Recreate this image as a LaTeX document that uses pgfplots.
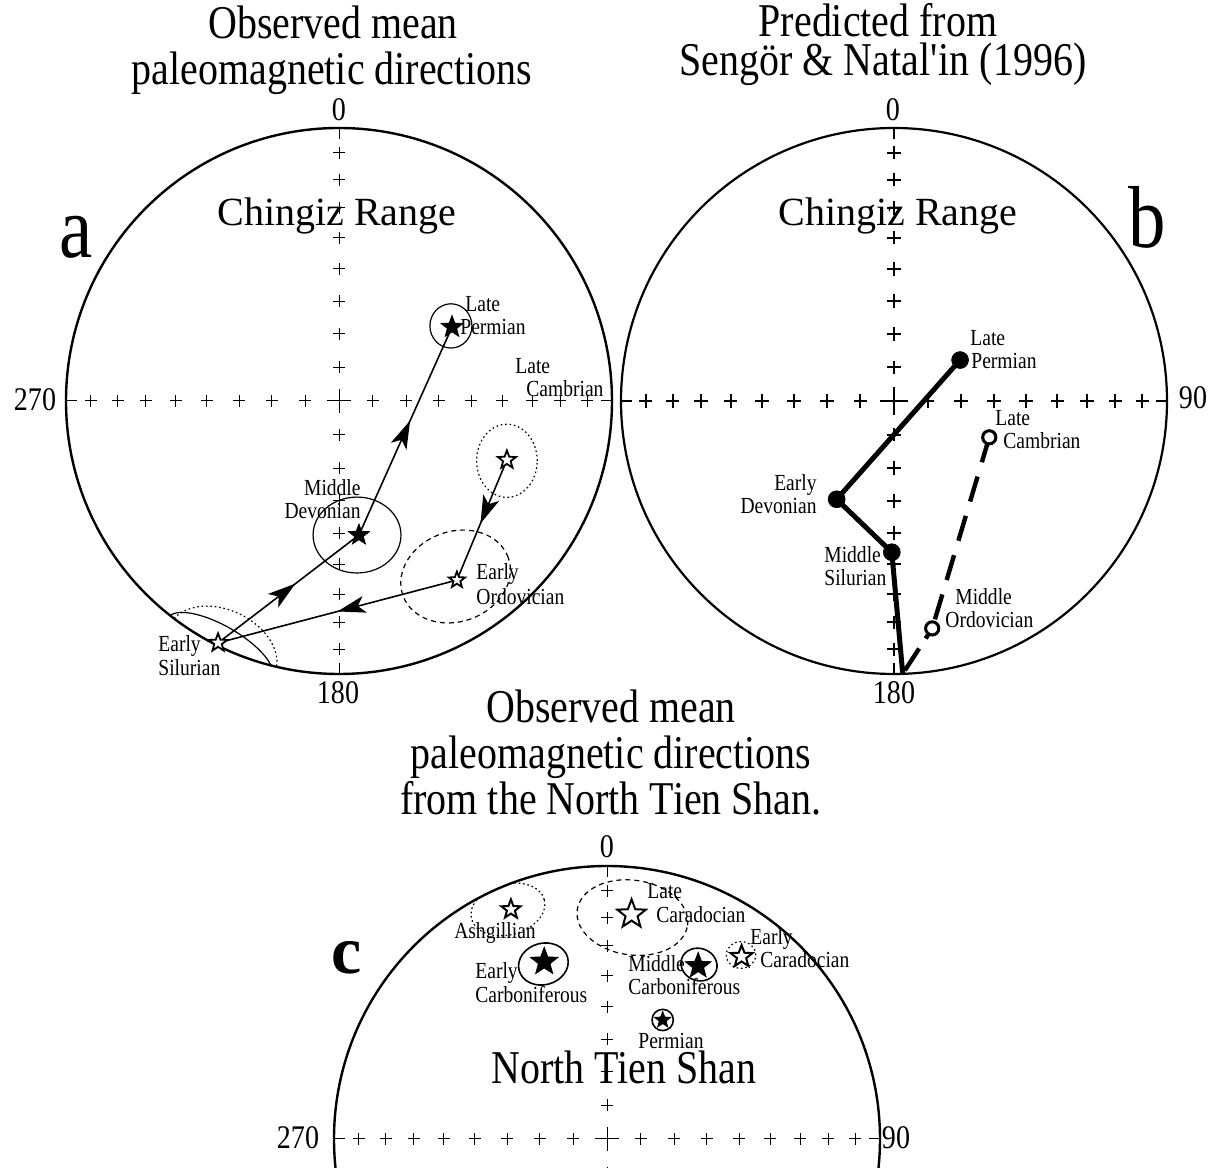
\documentclass[border=0pt]{standalone}
\usepackage{fontspec}
\setmainfont{Liberation Serif}
\newfontfamily\cf[FakeStretch=0.85]{Liberation Serif}
\usepackage{pgfplots}
\pgfplotsset{compat=1.18}
\usetikzlibrary{arrows.meta,decorations.markings}

\pgfdeclareplotmark{fstar}{%
\pgfpathmoveto{\pgfpointpolar{90}{\pgfplotmarksize}}%
\pgfpathlineto{\pgfpointpolar{126}{0.42\pgfplotmarksize}}%
\pgfpathlineto{\pgfpointpolar{162}{\pgfplotmarksize}}%
\pgfpathlineto{\pgfpointpolar{198}{0.42\pgfplotmarksize}}%
\pgfpathlineto{\pgfpointpolar{234}{\pgfplotmarksize}}%
\pgfpathlineto{\pgfpointpolar{270}{0.42\pgfplotmarksize}}%
\pgfpathlineto{\pgfpointpolar{306}{\pgfplotmarksize}}%
\pgfpathlineto{\pgfpointpolar{342}{0.42\pgfplotmarksize}}%
\pgfpathlineto{\pgfpointpolar{18}{\pgfplotmarksize}}%
\pgfpathlineto{\pgfpointpolar{54}{0.42\pgfplotmarksize}}%
\pgfpathclose
\pgfusepathqfillstroke}

\tikzset{
  dotty/.style={line width=0.6pt, dash pattern=on 0.8pt off 1.4pt},
  dashy/.style={line width=0.6pt, dash pattern=on 2.5pt off 2pt},
  midarrow/.style={postaction={decorate}, decoration={markings, mark=at position #1 with {\arrow{Stealth[length=14pt,width=8.5pt,inset=3.5pt]}}}}
}

\newcommand{\netskel}[4]{%
  \draw[line width=#4] (axis cs:0,0) circle[radius=1];
  \addplot[black, only marks, mark=+, mark size=#2, mark options={line width=#1}] coordinates {
    (-0.9092,0) (-0.8109,0) (-0.7071,0) (-0.5977,0) (-0.4837,0) (-0.3660,0) (-0.2456,0) (-0.1233,0)
    (0.1233,0) (0.2456,0) (0.3660,0) (0.4837,0) (0.5977,0) (0.7071,0) (0.8109,0) (0.9092,0)
    (0,-0.9092) (0,-0.8109) (0,-0.7071) (0,-0.5977) (0,-0.4837) (0,-0.3660) (0,-0.2456) (0,-0.1233)
    (0,0.1233) (0,0.2456) (0,0.3660) (0,0.4837) (0,0.5977) (0,0.7071) (0,0.8109) (0,0.9092)};
  \addplot[black, only marks, mark=+, mark size=#3, mark options={line width=#1}] coordinates {(0,0)};
  \addplot[black, line width=#1] coordinates {(0,1) (0,0.958)};
  \addplot[black, line width=#1] coordinates {(0,-1) (0,-0.958)};
  \addplot[black, line width=#1] coordinates {(1,0) (0.958,0)};
  \addplot[black, line width=#1] coordinates {(-1,0) (-0.958,0)};
}

\begin{document}
\begin{tikzpicture}
\useasboundingbox (0,0) rectangle (608.5pt,584pt);
\clip (0,0) rectangle (608.5pt,584pt);
\pgfplotsset{netaxis/.style={anchor=center, scale only axis, width=273pt, height=273pt,
  xmin=-1, xmax=1, ymin=-1, ymax=1, axis lines=none, clip=false}}

% ---------------- panel a ----------------
\begin{axis}[netaxis, at={(169.5pt,383.5pt)}]
\netskel{0.5pt}{3pt}{6pt}{1.2pt}
\draw[line width=0.6pt] (axis cs:0.410,0.275) ellipse[x radius=0.077, y radius=0.081];
\draw[line width=0.6pt] (axis cs:0.066,-0.491) ellipse[x radius=0.161, y radius=0.139];
\draw[dashy, rotate around={20:(axis cs:0.427,-0.643)}] (axis cs:0.427,-0.643) ellipse[x radius=0.205, y radius=0.165];
\draw[dotty] (axis cs:0.615,-0.219) ellipse[x radius=0.111, y radius=0.134];
\begin{scope}
\clip (axis cs:0,0) circle[radius=1];
\draw[line width=0.6pt, rotate around={-30:(axis cs:-0.436,-0.905)}] (axis cs:-0.436,-0.905) ellipse[x radius=0.22, y radius=0.081];
\draw[dotty, rotate around={-25:(axis cs:-0.429,-0.912)}] (axis cs:-0.429,-0.912) ellipse[x radius=0.212, y radius=0.147];
\end{scope}
\addplot[black, line width=0.8pt, midarrow=0.55] coordinates {(-0.443,-0.886) (0.073,-0.491)};
\addplot[black, line width=0.8pt, midarrow=0.55] coordinates {(0.073,-0.491) (0.414,0.271)};
\addplot[black, line width=0.8pt, midarrow=0.53] coordinates {(0.615,-0.216) (0.432,-0.656)};
\addplot[black, line width=0.8pt, midarrow=0.50] coordinates {(0.432,-0.656) (-0.443,-0.886)};
\addplot[black, only marks, mark=fstar, mark size=5.75pt, mark options={fill=black, line width=0.4pt}] coordinates {(0.414,0.271)};
\addplot[black, only marks, mark=fstar, mark size=5.5pt, mark options={fill=black, line width=0.4pt}] coordinates {(0.073,-0.491)};
\addplot[black, only marks, mark=fstar, mark size=4.75pt, mark options={fill=white, draw=black, line width=0.9pt}] coordinates {(-0.443,-0.886) (0.615,-0.216)};
\addplot[black, only marks, mark=fstar, mark size=4.25pt, mark options={fill=white, draw=black, line width=0.9pt}] coordinates {(0.432,-0.656)};
\end{axis}

% ---------------- panel b ----------------
\begin{axis}[netaxis, at={(447pt,383.5pt)}]
\netskel{1pt}{3.3pt}{7pt}{1.1pt}
\addplot[black, line width=2.5pt, line join=round] coordinates {(0.242,0.150) (-0.210,-0.360) (-0.008,-0.554) (0.032,-0.999)};
\addplot[black, line width=2.2pt, dash pattern=on 13pt off 7.5pt] coordinates {(0.349,-0.133) (0.140,-0.833)};
\addplot[black, line width=2.2pt, dash pattern=on 6pt off 6pt on 13pt off 7pt] coordinates {(0.140,-0.833) (0.032,-0.999)};
\addplot[black, only marks, mark=*, mark size=4.2pt] coordinates {(0.242,0.150) (-0.210,-0.360) (-0.008,-0.554)};
\addplot[black, only marks, mark=*, mark size=3.3pt, mark options={fill=white, draw=black, line width=1.5pt}] coordinates {(0.349,-0.133) (0.140,-0.833)};
\end{axis}

% ---------------- panel c ----------------
\begin{axis}[netaxis, at={(303.5pt,14.5pt)}]
\netskel{0.5pt}{3pt}{6pt}{1.2pt}
\begin{scope}
\clip (axis cs:0,0) circle[radius=1];
\draw[dotty, rotate around={15:(axis cs:-0.363,0.841)}] (axis cs:-0.363,0.841) ellipse[x radius=0.138, y radius=0.093];
\end{scope}
\draw[dashy, rotate around={-8:(axis cs:0.093,0.811)}] (axis cs:0.093,0.811) ellipse[x radius=0.204, y radius=0.137];
\draw[line width=0.8pt, rotate around={15:(axis cs:-0.233,0.641)}] (axis cs:-0.233,0.641) ellipse[x radius=0.092, y radius=0.076];
\draw[line width=0.8pt, rotate around={-20:(axis cs:0.337,0.639)}] (axis cs:0.337,0.639) ellipse[x radius=0.067, y radius=0.059];
\draw[dotty] (axis cs:0.491,0.674) ellipse[x radius=0.054, y radius=0.049];
\draw[line width=0.8pt] (axis cs:0.204,0.436) circle[radius=0.039];
\addplot[black, only marks, mark=fstar, mark size=5pt, mark options={fill=white, draw=black, line width=1pt}] coordinates {(-0.352,0.841)};
\addplot[black, only marks, mark=fstar, mark size=7.5pt, mark options={fill=white, draw=black, line width=1pt}] coordinates {(0.090,0.823)};
\addplot[black, only marks, mark=fstar, mark size=5.75pt, mark options={fill=white, draw=black, line width=1pt}] coordinates {(0.493,0.668)};
\addplot[black, only marks, mark=fstar, mark size=7.25pt, mark options={fill=black, line width=0.4pt}] coordinates {(-0.230,0.649)};
\addplot[black, only marks, mark=fstar, mark size=6.75pt, mark options={fill=black, line width=0.4pt}] coordinates {(0.334,0.634)};
\addplot[black, only marks, mark=fstar, mark size=4.25pt, mark options={fill=black, line width=0.4pt}] coordinates {(0.204,0.436)};
\end{axis}

% ---------------- text ----------------
\begin{scope}[x=0.5pt, y=-0.5pt, shift={(0pt,584pt)},
  every node/.style={inner sep=0pt},
  tf/.style={font=\cf\fontsize{23.5}{24}\selectfont, text height=16.45pt, text depth=4.7pt},
  nf/.style={font=\cf\fontsize{16.5}{17}\selectfont, text height=11.55pt, text depth=3.3pt},
  lf/.style={font=\cf\fontsize{11.5}{12}\selectfont, text height=8.05pt, text depth=2.3pt},
  rf/.style={font=\fontsize{20}{22}\selectfont, text height=14pt, text depth=4pt},
  bigf/.style={font=\cf\fontsize{44}{44}\selectfont, text height=30.8pt, text depth=8.8pt},
  cf/.style={font=\fontsize{34}{34}\selectfont\bfseries, text height=23.8pt, text depth=6.8pt}]
% titles
\node[tf] at (333,27) {Observed mean};
\node[tf] at (332,73) {paleomagnetic directions};
\node[tf] at (878,25) {Predicted from};
\node[tf] at (883,64) {Sengör \& Natal\textquotesingle in (1996)};
\node[tf] at (611,711) {Observed mean};
\node[tf] at (611,757) {paleomagnetic directions};
\node[tf] at (611,803) {from the North Tien Shan.};
% direction numbers
\node[nf] at (339,112) {0};
\node[nf] at (338,695) {180};
\node[nf] at (35,402) {270};
\node[nf] at (893,112) {0};
\node[nf] at (894,695) {180};
\node[nf] at (1193,400) {90};
\node[nf] at (607,849) {0};
\node[nf] at (298,1140) {270};
\node[nf] at (896,1140) {90};
% panel letters
\node[bigf] at (76,236) {a};
\node[bigf] at (1147,226) {b};
\node[cf] at (347,957) {c};
% region names
\node[rf] at (337,216) {Chingiz Range};
\node[rf] at (898,216) {Chingiz Range};
\node[tf] at (624,1072) {North Tien Shan};
% panel a labels
\node[lf, anchor=west] at (465,306) {Late};
\node[lf, anchor=west] at (460,329) {Permian};
\node[lf, anchor=west] at (515,368) {Late};
\node[lf, anchor=west] at (526,391) {Cambrian};
\node[lf, anchor=east] at (361,490) {Middle};
\node[lf, anchor=east] at (361,513) {Devonian};
\node[lf, anchor=west] at (158,646) {Early};
\node[lf, anchor=west] at (158,670) {Silurian};
\node[lf, anchor=west] at (476,574) {Early};
\node[lf, anchor=west] at (476,599) {Ordovician};
% panel b labels
\node[lf, anchor=west] at (970,340) {Late};
\node[lf, anchor=west] at (971,363) {Permian};
\node[lf, anchor=east] at (817,485) {Early};
\node[lf, anchor=east] at (817,508) {Devonian};
\node[lf, anchor=west] at (824,557) {Middle};
\node[lf, anchor=west] at (824,580) {Silurian};
\node[lf, anchor=west] at (955,599) {Middle};
\node[lf, anchor=west] at (945,622) {Ordovician};
\node[lf, anchor=west] at (995,420) {Late};
\node[lf, anchor=west] at (1003,443) {Cambrian};
% panel c labels
\node[lf] at (495,933) {Ashgillian};
\node[lf, anchor=west] at (647,893) {Late};
\node[lf, anchor=west] at (656,917) {Caradocian};
\node[lf, anchor=west] at (475,973) {Early};
\node[lf, anchor=west] at (475,997) {Carboniferous};
\node[lf, anchor=west] at (628,966) {Middle};
\node[lf, anchor=west] at (628,989) {Carboniferous};
\node[lf, anchor=west] at (750,939) {Early};
\node[lf, anchor=west] at (760,962) {Caradocian};
\node[lf] at (671,1043) {Permian};
\end{scope}
\end{tikzpicture}
\end{document}
